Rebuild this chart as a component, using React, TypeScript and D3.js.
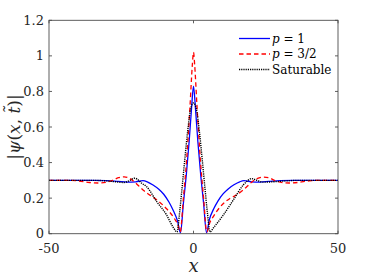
import React from 'react';
import * as d3 from 'd3';

// values
const xBlue = [-50, -40, -35, -30, -26, -23, -20, -17.5, -16, -14, -12, -10.3, -8.5, -7, -5.5, -4.5, -3.5, -2.5, -1.5, -0.7, 0,
  0.7, 1.5, 2.5, 3.5, 4.5, 5.5, 7, 8.5, 10.3, 12, 14, 16, 17.5, 20, 23, 26, 30, 35, 40, 50];
const yBlue = [0.3, 0.3, 0.3, 0.299, 0.294, 0.29, 0.292, 0.298, 0.292, 0.274, 0.25, 0.222, 0.178, 0.13, 0.07, 0.005, 0.17, 0.33, 0.52, 0.7, 0.83,
  0.7, 0.52, 0.33, 0.17, 0.005, 0.08, 0.14, 0.185, 0.225, 0.252, 0.275, 0.292, 0.298, 0.292, 0.29, 0.294, 0.299, 0.3, 0.3, 0.3];

const xRed = [-50, -44, -40, -36, -33, -30, -28, -26, -24, -22, -20, -18.5, -17, -14, -12.7, -9.3, -6.4, -5.5, -4.6, -3.5, -2.4, -1.2, -0.4, 0,
  0.4, 1.2, 2.4, 3.5, 4.6, 5.7, 6.4, 9.2, 12.6, 14, 17.2, 18.5, 20, 22, 24, 26, 28, 30, 33, 36, 40, 44, 50];
const yRed = [0.3, 0.3, 0.297, 0.288, 0.285, 0.29, 0.3, 0.315, 0.32, 0.31, 0.285, 0.262, 0.24, 0.205, 0.19, 0.14, 0.08, 0.055, 0.01, 0.2, 0.41, 0.72, 0.95, 1.02,
  0.95, 0.72, 0.41, 0.2, 0.01, 0.065, 0.085, 0.15, 0.198, 0.21, 0.246, 0.265, 0.288, 0.31, 0.318, 0.315, 0.3, 0.29, 0.285, 0.288, 0.297, 0.3, 0.3];

const xBlack = [-50, -35, -30, -27, -24, -22, -20.5, -19.6, -18, -16.2, -12.7, -9.3, -7, -5.7, -4.8, -4, -3, -2, -1, 0,
  1, 2, 3, 4, 4.8, 5.7, 7, 10.3, 13.8, 17.2, 18.5, 20.1, 22, 24, 28.6, 32, 36, 50];
const yBlack = [0.3, 0.3, 0.297, 0.292, 0.288, 0.3, 0.312, 0.308, 0.285, 0.264, 0.18, 0.105, 0.035, 0.01, 0.12, 0.25, 0.42, 0.58, 0.7, 0.735,
  0.7, 0.58, 0.42, 0.25, 0.12, 0.01, 0.035, 0.105, 0.19, 0.274, 0.295, 0.31, 0.3, 0.29, 0.293, 0.297, 0.3, 0.3];

const xTicks = [-50, 0, 50];
const yTicks = [0, 0.2, 0.4, 0.6, 0.8, 1, 1.2];

const serif = 'DejaVu Serif, Liberation Serif, serif';

export default function App() {
  const x = d3.scaleLinear().domain([-50, 50]).range([49, 338]);
  const y = d3.scaleLinear().domain([0, 1.2]).range([233.7, 20.3]);

  const line = d3.line<[number, number]>()
    .x(d => x(d[0]))
    .y(d => y(d[1]))
    .curve(d3.curveMonotoneX);

  const zip = (xs: number[], ys: number[]) => xs.map((v, i) => [v, ys[i]] as [number, number]);

  const series = [
    { label: 'p1', d: zip(xBlue, yBlue), color: '#0000ff', dash: undefined, w: 1.3 },
    { label: 'p32', d: zip(xRed, yRed), color: '#ff0000', dash: '4.5,3', w: 1.3 },
    { label: 'sat', d: zip(xBlack, yBlack), color: '#000000', dash: '1.2,1', w: 1.4 },
  ];

  const [x0, x1] = x.range();
  const [y0, y1] = y.range();
  const axisColor = '#4d4d4d';
  const tl = 3;

  return (
    <svg width={374} height={280} fontFamily={serif} style={{ position: 'absolute', left: 0, top: 0, background: '#fff' }}>
      <g fill="none" strokeLinejoin="round">
        {series.map(s => (
          <path key={s.label} d={line(s.d) ?? ''} stroke={s.color} strokeWidth={s.w} strokeDasharray={s.dash} />
        ))}
      </g>

      {/* box and inward ticks */}
      <rect x={x0} y={y1} width={x1 - x0} height={y0 - y1} fill="none" stroke={axisColor} strokeWidth={0.9} />
      {yTicks.map(t => (
        <g key={'y' + t} stroke={axisColor} strokeWidth={0.9}>
          <line x1={x0} x2={x0 + tl} y1={y(t)} y2={y(t)} />
          <line x1={x1} x2={x1 - tl} y1={y(t)} y2={y(t)} />
        </g>
      ))}
      {xTicks.map(t => (
        <g key={'x' + t} stroke={axisColor} strokeWidth={0.9}>
          <line x1={x(t)} x2={x(t)} y1={y0} y2={y0 - tl} />
          <line x1={x(t)} x2={x(t)} y1={y1} y2={y1 + tl} />
        </g>
      ))}

      <g fontSize={13} fill="#262626">
        {yTicks.map(t => (
          <text key={'yl' + t} x={x0 - 5} y={y(t)} dy="0.35em" textAnchor="end">{String(t)}</text>
        ))}
        {xTicks.map(t => (
          <text key={'xl' + t} x={x(t)} y={y0 + 19} textAnchor="middle">{String(t)}</text>
        ))}
      </g>

      <text x={x(0)} y={272} textAnchor="middle" fontStyle="italic" fontSize={18} fill="#262626">x</text>
      <text transform={`translate(20,${(y0 + y1) / 2}) rotate(-90)`} textAnchor="middle" fontSize={17} fill="#262626">
        |<tspan fontStyle="italic">ψ</tspan>(<tspan fontStyle="italic">x</tspan>, <tspan fontStyle="italic">t̃</tspan>)|
      </text>

      {/* legend */}
      <g fontSize={12} fill="#000">
        {[
          { c: '#0000ff', dash: undefined, w: 1.3, ty: 38.5, el: <><tspan fontStyle="italic">p</tspan> = 1</> },
          { c: '#ff0000', dash: '4.5,3', w: 1.3, ty: 54, el: <><tspan fontStyle="italic">p</tspan> = 3/2</> },
          { c: '#000000', dash: '1.2,1', w: 1.4, ty: 69.5, el: <>Saturable</> },
        ].map((r, i) => (
          <g key={i}>
            <line x1={239} x2={270} y1={r.ty} y2={r.ty} stroke={r.c} strokeWidth={r.w} strokeDasharray={r.dash} />
            <text x={272} y={r.ty} dy="0.35em">{r.el}</text>
          </g>
        ))}
      </g>
    </svg>
  );
}
